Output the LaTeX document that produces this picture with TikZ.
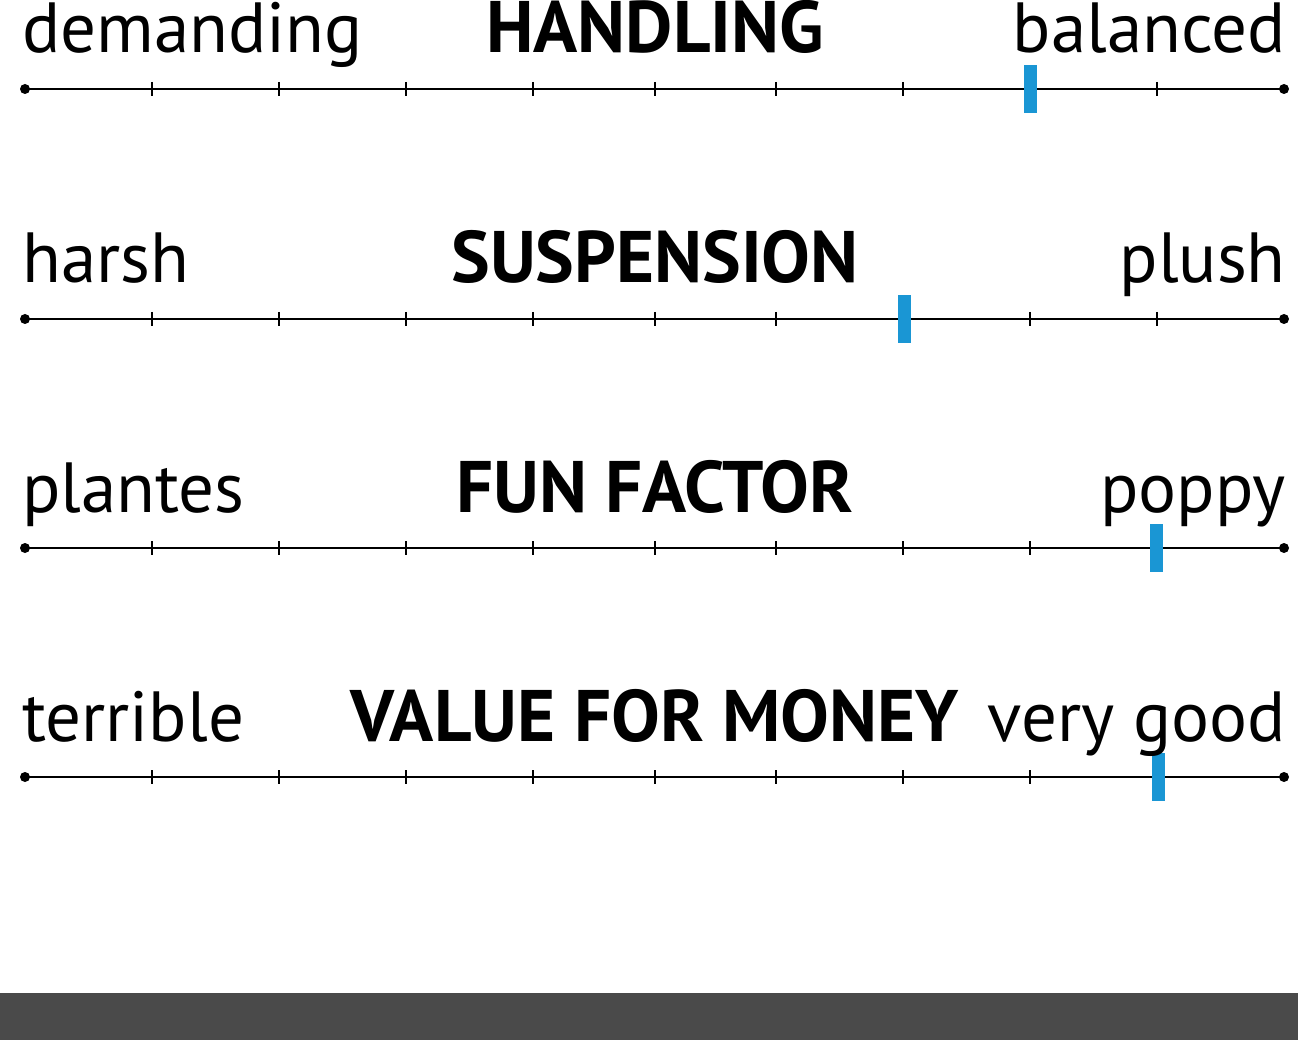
\documentclass[tikz,border=0pt]{standalone}
\usepackage{fontspec}
\setmainfont{PT Sans}
\definecolor{markblue}{HTML}{1A96D4}
\definecolor{bargray}{HTML}{4A4A4A}
\tikzset{
  scaleline/.style={line width=2pt, black},
  tickmark/.style={line width=2pt, black},
  enddot/.style={circle, fill=black, inner sep=0pt, minimum size=10pt},
  marker/.style={fill=markblue, draw=none},
  lowlabel/.style={inner sep=0pt, font=\fontsize{71}{80}\selectfont},
  titlelabel/.style={inner sep=0pt, font=\fontsize{73}{80}\selectfont\bfseries},
}
\begin{document}
\begin{tikzpicture}[x=1pt,y=-1pt]
\useasboundingbox (0,0) rectangle (1298,1040);
\fill[bargray] (0,993) rectangle (1298,1040);
\foreach \r/\yy/\mx/\left/\title/\right in {
  a/89/1030/demanding/HANDLING/balanced,
  b/319/904/harsh/SUSPENSION/plush,
  c/548/1156/plantes/FUN FACTOR/poppy,
  d/777/1158/terrible/VALUE FOR MONEY/very good}{
  \node[enddot] (\r L) at (25,\yy) {};
  \node[enddot] (\r R) at (1284,\yy) {};
  \draw[scaleline] (\r L.center) -- (\r R.center);
  \foreach \tx in {152,279,406,533,655,776,903,1030,1157}{
    \draw[tickmark] (\tx,\yy-7) -- (\tx,\yy+7);
  }
  \fill[marker] (\mx-6.5,\yy-24) rectangle (\mx+6.5,\yy+24);
  \node[lowlabel, anchor=base west] (\r l) at (22,\yy-36) {\left};
  \node[lowlabel, anchor=base east] (\r r) at (1286,\yy-36) {\right};
  \node[titlelabel, anchor=base] (\r t) at (655,\yy-36) {\title};
}
\end{tikzpicture}
\end{document}
